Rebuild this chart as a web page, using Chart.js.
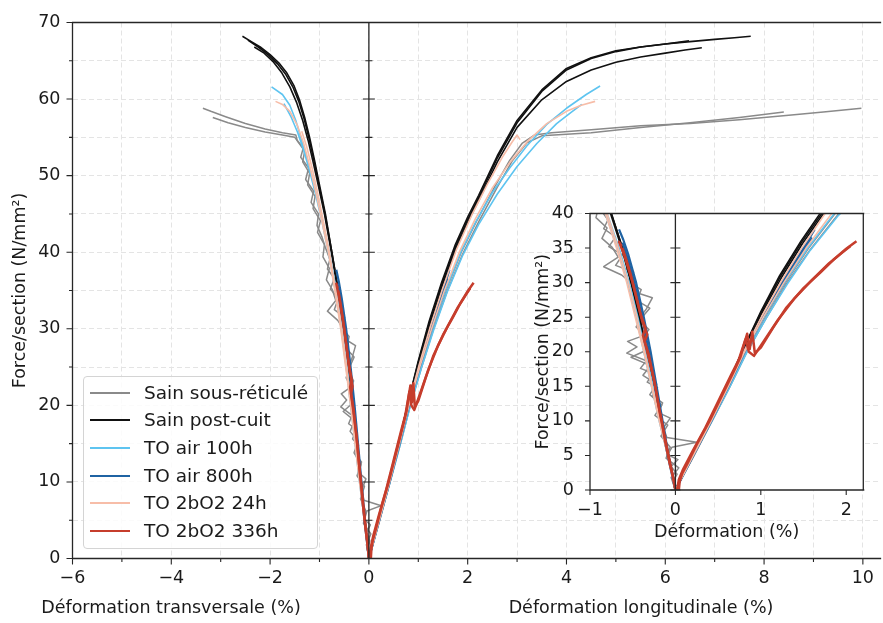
<!DOCTYPE html>
<html lang="fr">
<head>
<meta charset="utf-8">
<title>Force/section - déformation</title>
<script src="https://cdn.jsdelivr.net/npm/chart.js@4.4.1/dist/chart.umd.min.js"></script>
<style>
  body { margin: 0; background: #fff; font-family: "DejaVu Sans", sans-serif; }
  #cadre { position: relative; width: 883px; height: 623px; overflow: hidden; }
  #principal { position: absolute; left: 0; top: 0; }
  #encart { position: absolute; left: 520px; top: 195px; }
  #legende {
    position: absolute; left: 83px; top: 376px; width: 235px; height: 173px;
    box-sizing: border-box; border: 1px solid #d4d4d4; border-radius: 4px;
    background: rgba(255, 255, 255, 0.85);
  }
  .entree { position: absolute; left: 0; height: 24px; width: 100%; }
  .entree span.trait { position: absolute; left: 6px; top: 11px; width: 40px; height: 2px; }
  .entree span.texte { position: absolute; left: 60px; top: 0; line-height: 24px; font-size: 18.5px; color: #1a1a1a; white-space: nowrap; }
  .titre-x { position: absolute; top: 597px; font-size: 17.5px; color: #1a1a1a; white-space: nowrap; transform: translateX(-50%); }
</style>
</head>
<body>
<div id="cadre">
  <canvas id="principal" width="883" height="623"></canvas>
  <canvas id="encart" width="363" height="355"></canvas>
  <div id="legende"></div>
  <div class="titre-x" style="left:171px">Déformation transversale (%)</div>
  <div class="titre-x" style="left:641px">Déformation longitudinale (%)</div>
</div>
<script>
// ---------- Données : [déformation %, force/section N/mm²] ----------
// Sain sous-réticulé
const sainSR_T1 = [[0,0],[-0.03,1.2],[0.02,2.3],[-0.05,3.4],[0.03,4.4],[-0.09,5.1],[-0.04,6.2],[0.25,6.9],[-0.1,7.6],[-0.14,9],[-0.06,10.4],[-0.2,11.2],[-0.15,12.6],[-0.27,13.6],[-0.21,14.8],[-0.33,15.6],[-0.26,16.9],[-0.41,17.6],[-0.34,18.7],[-0.57,19.8],[-0.45,20.7],[-0.56,21.5],[-0.36,22.4],[-0.46,23.6],[-0.39,25],[-0.3,26.3],[-0.45,27.4],[-0.4,29],[-0.55,30.1],[-0.49,31.5],[-0.7,32.5],[-0.62,34],[-0.78,35.2],[-0.7,36.6],[-0.84,37.8],[-0.79,39.1],[-0.88,40.6],[-0.95,42],[-1.05,43.5],[-1.02,45],[-1.17,46.5],[-1.12,48],[-1.28,49.5],[-1.22,51],[-1.38,52.4],[-1.33,53.6],[-1.45,54.6],[-1.48,55.3],[-1.75,55.6],[-2.1,56.1],[-2.5,56.8],[-2.9,57.7],[-3.2,58.4],[-3.36,58.8]];
const sainSR_T2 = [[0,0],[-0.05,1.8],[0.04,3.2],[-0.11,4.6],[-0.06,6.2],[-0.17,7.8],[-0.09,9.4],[-0.24,10.8],[-0.16,12.3],[-0.3,13.8],[-0.22,15.3],[-0.38,16.6],[-0.29,18],[-0.52,19.2],[-0.31,20.4],[-0.4,21.8],[-0.31,23.2],[-0.43,24.7],[-0.34,26.2],[-0.27,27.8],[-0.47,28.6],[-0.52,30],[-0.63,31.1],[-0.84,32.3],[-0.67,33.7],[-0.74,35.1],[-0.86,36.4],[-0.8,37.9],[-0.93,39.4],[-0.9,41],[-1.04,42.6],[-0.98,44.1],[-1.13,45.7],[-1.09,47.3],[-1.24,48.8],[-1.2,50.3],[-1.34,51.8],[-1.3,53.2],[-1.42,54.3],[-1.5,55.0],[-1.75,55.3],[-2.1,55.7],[-2.5,56.3],[-2.85,56.9],[-3.16,57.6]];
const sainSR_L1 = [[0,0],[0.21,5],[0.42,10],[0.63,15],[0.83,20],[1.05,25],[1.29,30],[1.56,35],[1.87,40],[2.2,44.3],[2.55,48.6],[2.85,52],[3.1,54.2],[3.35,55.3],[3.7,55.6],[4.5,56.0],[5.5,56.5],[6.5,56.8],[7.5,57.3],[8.5,57.9],[9.2,58.3],[9.97,58.8]];
const sainSR_L2 = [[0,0],[0.22,5],[0.43,10],[0.64,15],[0.84,20],[1.06,24.8],[1.3,29.8],[1.58,34.8],[1.9,39.8],[2.24,44.2],[2.6,48.5],[2.9,51.9],[3.2,54.3],[3.5,55.2],[4.5,55.6],[5.5,56.3],[6.5,56.9],[7.5,57.6],[8.4,58.3]];

// Sain post-cuit
const postCuit_T1 = [[0,0],[-0.08,5],[-0.17,10],[-0.25,15],[-0.33,20],[-0.42,25],[-0.51,30],[-0.62,35],[-0.75,40],[-0.88,45],[-1.0,48.8],[-1.1,52],[-1.2,55],[-1.3,57.6],[-1.4,59.8],[-1.52,61.8],[-1.66,63.4],[-1.82,64.7],[-2.0,65.8],[-2.2,66.8],[-2.38,67.5],[-2.56,68.2]];
const postCuit_T2 = [[0,0],[-0.08,5],[-0.17,10],[-0.26,15],[-0.34,20],[-0.43,25],[-0.52,30],[-0.63,35],[-0.76,40],[-0.9,45],[-1.02,48.6],[-1.13,51.8],[-1.23,54.6],[-1.34,57.2],[-1.46,59.5],[-1.6,61.6],[-1.76,63.4],[-1.94,64.9],[-2.12,66],[-2.32,66.8]];
const postCuit_T3 = [[0,0],[-0.08,5],[-0.17,10],[-0.25,15],[-0.34,20],[-0.42,25],[-0.52,30],[-0.62,35],[-0.75,40],[-0.89,45],[-1.01,48.7],[-1.11,51.9],[-1.21,54.8],[-1.31,57.4],[-1.42,59.7],[-1.54,61.6],[-1.68,63.2],[-1.85,64.6],[-2.04,65.8],[-2.24,66.8],[-2.45,67.7]];
const postCuit_L1 = [[0,0],[0.2,5],[0.4,10],[0.6,15],[0.78,20],[1.0,25.8],[1.22,31],[1.47,36],[1.75,41],[2.0,44.6],[2.22,47.4],[2.6,52.6],[3.0,57.2],[3.5,61.2],[4.0,64.0],[4.5,65.4],[5.0,66.3],[5.5,66.8],[6.0,67.2],[6.5,67.5],[7.0,67.8],[7.4,68.0],[7.73,68.2]];
const postCuit_L2 = [[0,0],[0.2,5],[0.41,10],[0.61,15],[0.79,20],[1.01,25.5],[1.24,30.7],[1.49,35.7],[1.77,40.6],[2.03,44.3],[2.25,47.1],[2.6,51.8],[3.0,56.3],[3.5,59.9],[4.0,62.3],[4.5,63.8],[5.0,64.8],[5.5,65.5],[6.0,66.0],[6.4,66.4],[6.74,66.7]];
const postCuit_L3 = [[0,0],[0.2,5],[0.4,10],[0.6,15],[0.78,20],[1.0,25.6],[1.23,30.9],[1.48,35.9],[1.76,40.8],[2.01,44.4],[2.23,47.2],[2.6,52.3],[3.0,56.9],[3.5,61.0],[4.0,63.8],[4.5,65.3],[5.0,66.2],[5.5,66.8],[6.0,67.2],[6.48,67.6]];

// TO air 100h
const air100_T1 = [[0,0],[-0.09,5],[-0.18,10],[-0.26,15],[-0.35,20],[-0.44,25],[-0.54,30],[-0.66,35],[-0.8,40],[-0.92,43.6],[-1.04,47],[-1.16,50.2],[-1.28,52.8],[-1.38,55],[-1.48,57.2],[-1.6,59.2],[-1.75,60.6],[-1.97,61.6]];
const air100_T2 = [[0,0],[-0.09,5],[-0.19,10],[-0.28,15],[-0.37,20],[-0.46,25],[-0.56,30],[-0.68,35],[-0.82,40],[-0.95,44],[-1.08,47.6],[-1.2,50.6],[-1.32,53.3],[-1.44,55.6],[-1.57,57.6],[-1.72,59.4]];
const air100_L1 = [[0,0],[0.21,5],[0.42,10],[0.62,15],[0.82,20],[1.04,25],[1.28,30],[1.55,35],[1.86,40],[2.15,43.8],[2.5,47.8],[2.85,51],[3.2,53.9],[3.6,56.7],[4.0,58.8],[4.4,60.6],[4.68,61.7]];
const air100_L2 = [[0,0],[0.21,5],[0.43,10],[0.64,15],[0.84,20],[1.06,24.8],[1.31,29.8],[1.58,34.7],[1.9,39.6],[2.22,43.6],[2.6,47.6],[3.0,51.2],[3.4,54.2],[3.8,56.8],[4.1,58.3],[4.31,59.3]];

// TO air 800h
const air800_T1 = [[0,0],[-0.03,2],[-0.08,5],[-0.15,10],[-0.22,15],[-0.29,20],[-0.37,25],[-0.46,30],[-0.55,34],[-0.61,36.2],[-0.66,37.7]];
const air800_T2 = [[0,0],[-0.04,2.2],[-0.09,5],[-0.17,10],[-0.24,15],[-0.31,20],[-0.39,25],[-0.48,30],[-0.56,33.6],[-0.62,35.8]];
const air800_L1 = [[0,0],[0.2,5],[0.41,10],[0.61,15],[0.8,20],[1.02,25],[1.25,30],[1.5,35],[1.63,37.7]];
const air800_L2 = [[0,0],[0.21,5],[0.42,10],[0.62,15],[0.81,20],[1.03,25.1],[1.27,30.1],[1.51,34.8],[1.6,36.5]];

// TO 2bO2 24h
const o2_24_T1 = [[0,0],[-0.09,5],[-0.19,10],[-0.28,15],[-0.37,20],[-0.47,25],[-0.57,30],[-0.69,35],[-0.82,40],[-0.95,44],[-1.08,48],[-1.2,51.3],[-1.32,54.2],[-1.45,56.6],[-1.6,58.4],[-1.75,59.3],[-1.89,59.7]];
const o2_24_T2 = [[0,0],[-0.08,5],[-0.18,10],[-0.27,15],[-0.36,20],[-0.45,25],[-0.55,30],[-0.67,35],[-0.8,40],[-0.92,44],[-1.04,47.8],[-1.15,51],[-1.26,53.8],[-1.36,55.8]];
const o2_24_L1 = [[0,0],[0.21,5],[0.42,10],[0.62,15],[0.81,20],[1.03,25],[1.27,30],[1.53,35],[1.83,40],[2.15,44.3],[2.5,48.4],[2.85,51.7],[3.2,54.4],[3.6,56.8],[4.0,58.4],[4.3,59.2],[4.58,59.7]];
const o2_24_L2 = [[0,0],[0.2,5],[0.41,10],[0.61,15],[0.8,20],[1.01,25.1],[1.24,30.2],[1.49,35.2],[1.77,40.3],[2.08,44.8],[2.4,48.9],[2.7,52.4],[2.9,54.4],[3.0,55.3],[3.06,54.7]];

// TO 2bO2 336h
const o2_336_T1 = [[0,0],[-0.02,1.5],[-0.07,4],[-0.12,7],[-0.16,10],[-0.21,13],[-0.25,16],[-0.3,18.5],[-0.33,20],[-0.38,22.4],[-0.35,23.4],[-0.41,25.5],[-0.45,27.5],[-0.5,30],[-0.55,32],[-0.6,34],[-0.66,35.9],[-0.63,35.3]];
const o2_336_T2 = [[0,0],[-0.03,2],[-0.08,5],[-0.13,8],[-0.18,11],[-0.22,14],[-0.27,17],[-0.31,19.5],[-0.36,21.5],[-0.33,22.5],[-0.39,24.5],[-0.44,27],[-0.49,29.5],[-0.53,31.5],[-0.58,33.5],[-0.62,35]];
const o2_336_L1 = [[0.04,0],[0.05,1.2],[0.08,2.4],[0.14,3.8],[0.25,6.6],[0.4,10],[0.55,13.8],[0.7,17.6],[0.76,19.2],[0.84,22.6],[0.87,20.4],[0.9,22.9],[0.93,19.8],[1.0,20.6],[1.15,23.6],[1.3,26.4],[1.5,29.2],[1.7,31.5],[1.85,33.3],[2.0,34.9],[2.12,36]];
const o2_336_L2 = [[0.02,0],[0.04,1.5],[0.09,3],[0.2,5.6],[0.35,9],[0.5,12.8],[0.65,16.6],[0.74,18.8],[0.82,21.8],[0.86,20],[0.92,19.4],[1.05,21.8],[1.2,24.6],[1.4,27.8],[1.6,30.4],[1.8,32.8],[1.95,34.3],[2.05,35.3]];

// Séries (ordre de la légende)
const nomsSeries = ["Sain sous-réticulé", "Sain post-cuit", "TO air 100h", "TO air 800h", "TO 2bO2 24h", "TO 2bO2 336h"];
const couleursSeries = ["#8a8a8a", "#111111", "#5ec4f0", "#1f63a3", "#f7bda8", "#c63d2c"];
const epaisseursSeries = [1.5, 1.6, 1.6, 2.2, 1.6, 2.5];
const courbesSeries = [
  [sainSR_T1, sainSR_T2, sainSR_L1, sainSR_L2],
  [postCuit_T1, postCuit_T2, postCuit_T3, postCuit_L1, postCuit_L2, postCuit_L3],
  [air100_T1, air100_T2, air100_L1, air100_L2],
  [air800_T1, air800_T2, air800_L1, air800_L2],
  [o2_24_T1, o2_24_T2, o2_24_L1, o2_24_L2],
  [o2_336_T1, o2_336_T2, o2_336_L1, o2_336_L2]
];

// ---------- Construction des jeux de données ----------
function construireJeux() {
  const jeux = [];
  courbesSeries.forEach((courbes, i) => {
    courbes.forEach(c => {
      jeux.push({
        label: nomsSeries[i],
        data: c.map(p => ({ x: p[0], y: p[1] })),
        showLine: true,
        borderColor: couleursSeries[i],
        borderWidth: epaisseursSeries[i],
        pointRadius: 0,
        pointHoverRadius: 0,
        tension: 0,
        fill: false,
        borderJoinStyle: "round",
        order: courbesSeries.length - i   // la dernière série passe au-dessus
      });
    });
  });
  return jeux;
}

const moins = v => String(v).replace("-", "\u2212");
const police = { family: "DejaVu Sans", size: 17.5 };

// Cadre façon matplotlib : axes, axe vertical à x = 0, graduations majeures/mineures
const pluginAxes = {
  id: "axesCroises",
  beforeDraw(chart, args, o) {
    if (!o.fondBlanc) return;
    const a = chart.chartArea, ctx = chart.ctx;
    ctx.save();
    ctx.fillStyle = "#ffffff";
    ctx.fillRect(a.left, a.top, a.right - a.left, a.bottom - a.top);
    ctx.restore();
  },
  afterDatasetsDraw(chart, args, o) {
    const { ctx, chartArea: a, scales } = chart;
    const sx = scales.x, sy = scales.y;
    const x0 = sx.getPixelForValue(0);
    const trait = (x1, y1, x2, y2) => { ctx.moveTo(x1, y1); ctx.lineTo(x2, y2); };
    ctx.save();
    ctx.strokeStyle = "#262626";
    ctx.lineWidth = 1.3;
    ctx.beginPath();
    trait(a.left, a.bottom, a.left, a.top);
    trait(a.left - 0.6, a.top, a.right + 1, a.top);
    trait(a.left - 0.6, a.bottom, a.right + 1, a.bottom);
    if (o.droite) trait(a.right, a.top, a.right, a.bottom);
    trait(x0, a.top, x0, a.bottom);
    ctx.stroke();

    ctx.lineWidth = 1.1;
    ctx.beginPath();
    const pas = o.yMineur || o.yMajeur;
    for (let v = sy.min; v <= sy.max + 1e-9; v += pas) {
      const maj = Math.abs(v / o.yMajeur - Math.round(v / o.yMajeur)) < 1e-6;
      const l = maj ? o.longMaj : o.longMin;
      const py = sy.getPixelForValue(v);
      trait(a.left - l, py, a.left, py);
      trait(x0 - l, py, x0 + l, py);
    }
    const pasX = o.xMineur || o.xMajeur;
    for (let v = o.xDebut; v <= o.xFin + 1e-9; v += pasX) {
      const maj = Math.abs(v / o.xMajeur - Math.round(v / o.xMajeur)) < 1e-6;
      const l = maj ? o.longMaj : o.longMin;
      const px = sx.getPixelForValue(v);
      trait(px, a.bottom, px, a.bottom + l);
    }
    ctx.stroke();
    ctx.restore();
  }
};

// ---------- Graphique principal ----------
new Chart(document.getElementById("principal"), {
  type: "scatter",
  data: { datasets: construireJeux() },
  plugins: [pluginAxes],
  options: {
    responsive: false,
    animation: false,
    devicePixelRatio: 1,
    events: [],
    layout: { padding: { top: 21.5, left: 0, right: 0, bottom: 0 } },
    plugins: {
      legend: { display: false },
      tooltip: { enabled: false },
      axesCroises: { fondBlanc: false, droite: false, yMajeur: 10, yMineur: 5, xMajeur: 2, xMineur: 1, xDebut: -6, xFin: 10, longMaj: 6, longMin: 3.5 }
    },
    scales: {
      x: {
        type: "linear", min: -6, max: 10.35,
        afterFit: s => { s.height = 64.5; },
        grid: { color: "#e4e4e4", lineWidth: 1, drawTicks: false },
        border: { display: false, dash: [5, 3] },
        ticks: {
          stepSize: 1, includeBounds: false, autoSkip: false, maxRotation: 0,
          padding: 9, color: "#1a1a1a", font: police,
          callback: v => (v % 2 === 0 ? moins(v) : "")
        }
      },
      y: {
        type: "linear", min: 0, max: 70,
        afterFit: s => { s.width = 72.5; },
        grid: { color: "#e4e4e4", lineWidth: 1, drawTicks: false },
        border: { display: false, dash: [5, 3] },
        ticks: {
          stepSize: 5, includeBounds: false, autoSkip: false,
          padding: 12, color: "#1a1a1a", font: police,
          callback: v => (v % 10 === 0 ? v : "")
        },
        title: { display: true, text: "Force/section (N/mm²)", color: "#1a1a1a", font: police, padding: { top: 9.5, bottom: 0 } }
      }
    }
  }
});

// ---------- Encart (zoom sur l'origine) ----------
new Chart(document.getElementById("encart"), {
  type: "scatter",
  data: { datasets: construireJeux() },
  plugins: [pluginAxes],
  options: {
    responsive: false,
    animation: false,
    devicePixelRatio: 1,
    events: [],
    layout: { padding: { top: 14, left: 0, right: 19.7, bottom: 0 } },
    plugins: {
      legend: { display: false },
      tooltip: { enabled: false },
      axesCroises: { fondBlanc: true, droite: true, yMajeur: 5, yMineur: 0, xMajeur: 1, xMineur: 0, xDebut: -1, xFin: 2, longMaj: 5, longMin: 3 }
    },
    scales: {
      x: {
        type: "linear", min: -1, max: 2.2,
        afterFit: s => { s.height = 60; },
        grid: { display: false },
        border: { display: false },
        ticks: {
          stepSize: 1, includeBounds: false, autoSkip: false, maxRotation: 0,
          padding: 2, color: "#1a1a1a", font: police,
          callback: v => moins(v)
        },
        title: { display: true, text: "Déformation (%)", color: "#1a1a1a", font: police, padding: { top: 0, bottom: 7 } }
      },
      y: {
        type: "linear", min: 0, max: 40,
        afterFit: s => { s.width = 70; },
        grid: { display: false },
        border: { display: false },
        ticks: {
          stepSize: 5, includeBounds: false, autoSkip: false,
          padding: 8, color: "#1a1a1a", font: police
        },
        title: { display: true, text: "Force/section (N/mm²)", color: "#1a1a1a", font: police, padding: { top: 12.8, bottom: 0 } }
      }
    }
  }
});

// ---------- Légende ----------
const boite = document.getElementById("legende");
nomsSeries.forEach((nom, i) => {
  const e = document.createElement("div");
  e.className = "entree";
  e.style.top = (3.7 + 27.6 * i) + "px";
  e.innerHTML = '<span class="trait" style="background:' + couleursSeries[i] + '"></span><span class="texte">' + nom + "</span>";
  boite.appendChild(e);
});
</script>
</body>
</html>
